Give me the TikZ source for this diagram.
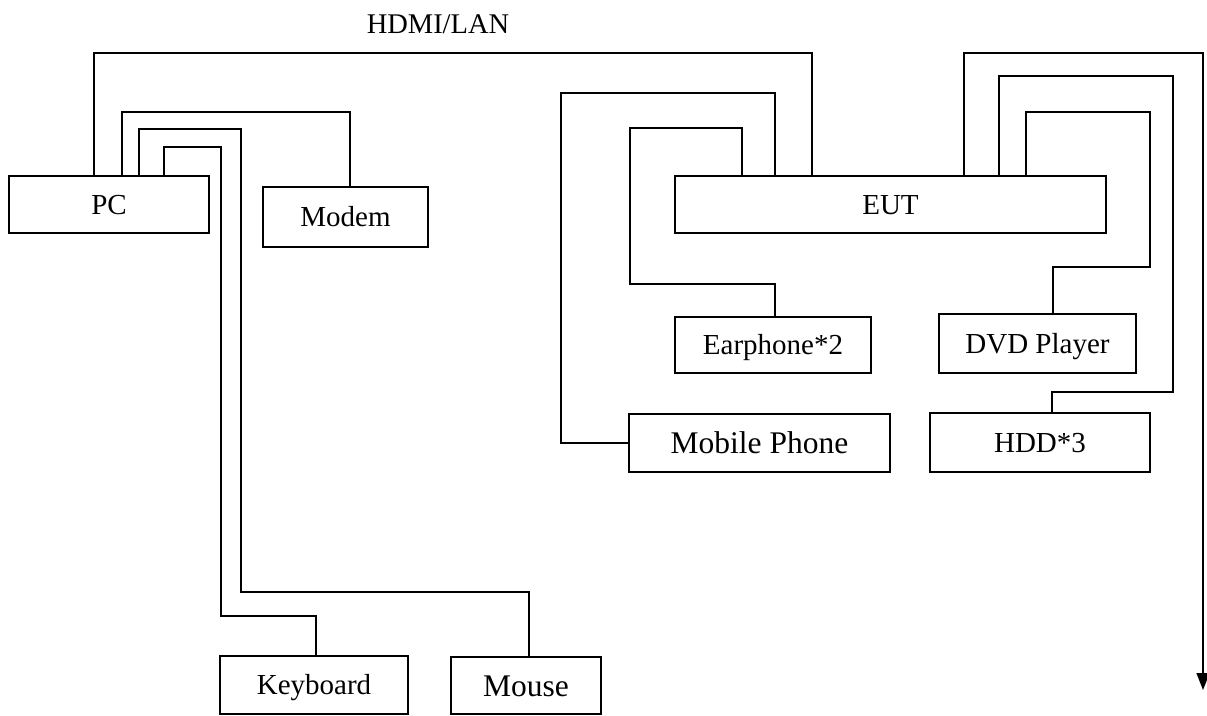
\documentclass[tikz,border=0pt]{standalone}
\usepackage{fontspec}
\setmainfont{Liberation Serif}
\usetikzlibrary{arrows.meta}
\begin{document}
\begin{tikzpicture}[x=1pt,y=-1pt,
  dev/.style={draw,line width=1.3pt,inner sep=0pt,font=\fontsize{29}{34}\selectfont,text height=19pt,text depth=0pt},
  devbig/.style={dev,font=\fontsize{31.5}{36}\selectfont,text height=21pt},
  wire/.style={line width=1.3pt},
  lbl/.style={font=\fontsize{28.5}{34}\selectfont,inner sep=0pt,anchor=base}]
\useasboundingbox (0,0) rectangle (1207,715);
% devices
\node[dev,minimum width=200pt,minimum height=57pt] (pc) at (109,204.5) {PC};
\node[dev,minimum width=165pt,minimum height=60pt] (modem) at (345.5,217) {Modem};
\node[dev,minimum width=431pt,minimum height=57pt] (eut) at (890.5,204.5) {EUT};
\node[dev,minimum width=196pt,minimum height=56pt] (ear) at (773,345) {Earphone*2};
\node[dev,minimum width=197pt,minimum height=59pt] (dvd) at (1037.5,343.5) {DVD Player};
\node[devbig,minimum width=261pt,minimum height=58pt] (mobile) at (759.5,443) {Mobile Phone};
\node[dev,minimum width=220pt,minimum height=59pt] (hdd) at (1040,442.5) {HDD*3};
\node[dev,minimum width=188pt,minimum height=58pt] (kbd) at (314,685) {Keyboard};
\node[devbig,minimum width=150pt,minimum height=57pt] (mouse) at (526,685.5) {Mouse};
\node[lbl] (hdmi) at (438,33) {HDMI/LAN};
\coordinate (arrowend) at (1203,690);
% PC side
\draw[wire] (pc.north -| 94,0) |- (812,53) -- (eut.north -| 812,0);
\draw[wire] (pc.north -| 122,0) |- (350,112) -- (modem.north -| 350,0);
\draw[wire] (pc.north -| 139,0) |- (241,129) |- (529,592) -- (mouse.north -| 529,0);
\draw[wire] (pc.north -| 164,0) |- (221,147) |- (316,616) -- (kbd.north -| 316,0);
% EUT left side
\draw[wire] (eut.north -| 775,0) |- (561,93) |- (mobile.west);
\draw[wire] (eut.north -| 742,0) |- (630,128) |- (775,284) -- (ear.north -| 775,0);
% EUT right side
\draw[wire,-{Triangle[length=17pt,width=13pt]}] (eut.north -| 964,0) |- (1203,53) -- (arrowend);
\draw[wire] (eut.north -| 999,0) |- (1173,76) |- (1052,392) -- (hdd.north -| 1052,0);
\draw[wire] (eut.north -| 1026,0) |- (1150,112) |- (1053,267) -- (dvd.north -| 1053,0);
\end{tikzpicture}
\end{document}
